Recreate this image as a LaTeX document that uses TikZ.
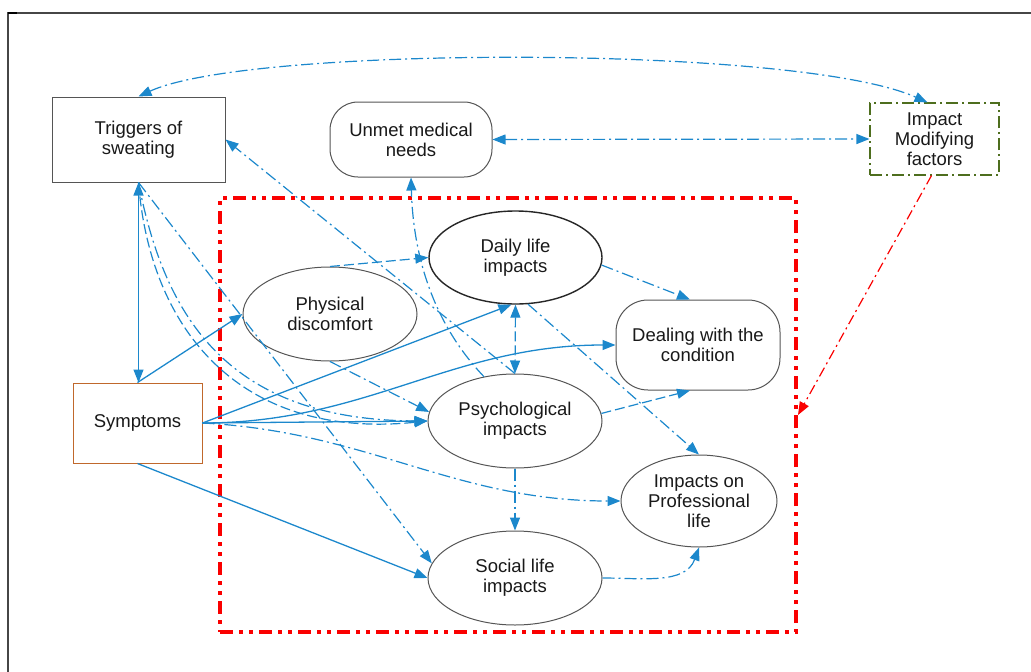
\documentclass[tikz,border=0pt]{standalone}
\usepackage{fontspec}
\setmainfont{Liberation Sans}
\usetikzlibrary{arrows.meta,shapes.geometric,calc}

\definecolor{flow}{RGB}{28,136,204}
\definecolor{grpred}{RGB}{250,0,0}
\definecolor{modgreen}{RGB}{78,110,30}
\definecolor{sympbrown}{RGB}{192,104,44}
\definecolor{edgegray}{RGB}{85,85,85}
\definecolor{framegray}{RGB}{70,70,70}

\begin{document}
\begin{tikzpicture}[x=1pt,y=1pt,
  lbl/.style={font=\fontsize{18.5}{20}\selectfont, align=center, text=black!90, inner sep=0pt},
  boxnode/.style={lbl, draw=edgegray, line width=1pt, fill=white, rectangle},
  roundnode/.style={lbl, draw=edgegray, line width=1pt, fill=white, rectangle, rounded corners=28pt},
  ellnode/.style={lbl, draw=edgegray, line width=1pt, fill=white, ellipse},
  headed/.style={-{Triangle[length=13pt,width=10pt]}},
  twoway/.style={{Triangle[length=13pt,width=10pt]}-{Triangle[length=13pt,width=10pt]}},
  solidflow/.style={draw=flow, color=flow, line width=1.3pt},
  dashflow/.style={draw=flow, color=flow, line width=1.2pt, dash pattern=on 10pt off 4pt},
  dotflow/.style={draw=flow, color=flow, line width=1.2pt, dash pattern=on 12pt off 4pt on 2pt off 4pt},
]
\useasboundingbox (0,0) rectangle (1031,-672);

% page frame
\draw[framegray, line width=1.5pt] (1031,-13) -- (8,-13) -- (8,-672);
\draw[black, line width=2.5pt] (8,-13) -- (17,-13);

% group of impacts
\node[draw=grpred, line width=4pt, dash pattern=on 13pt off 6pt on 4pt off 6pt on 4pt off 6pt,
      minimum width=576, minimum height=434, inner sep=0pt] (grp) at (508,-415) {};

% nodes
\node[boxnode, minimum width=173, minimum height=85] (trig) at (138.5,-139.5) {Triggers of\\sweating};
\node[roundnode, minimum width=162, minimum height=75] (unmet) at (411,-139.5) {Unmet medical\\needs};
\node[lbl, draw=modgreen, line width=1.1pt, dash pattern=on 12pt off 4pt on 2pt off 4pt, fill=white,
      minimum width=129, minimum height=72] (imp) at (934.5,-139) {Impact\\Modifying\\factors};
\node[lbl, draw=sympbrown, line width=1pt, fill=white, minimum width=129, minimum height=80] (symp) at (137.5,-423) {Symptoms};

\node[ellnode, minimum width=174, minimum height=94] (phys) at (330,-314) {Physical\\discomfort};
\node[ellnode, draw=black!85, line width=1.4pt, minimum width=173, minimum height=93] (daily) at (515.5,-257.5) {Daily life\\impacts};
\node[ellnode, minimum width=174, minimum height=94] (psych) at (515,-421) {Psychological\\impacts};
\node[ellnode, minimum width=174, minimum height=94] (social) at (515,-578) {Social life\\impacts};
\node[roundnode, rounded corners=32pt, minimum width=164, minimum height=90] (deal) at (698,-345) {Dealing with the\\condition};
\node[ellnode, minimum width=156, minimum height=92] (prof) at (699,-501) {Impacts on\\Professional\\life};

% links between triggers and modifying factors
\draw[dotflow, twoway] (trig.north) .. controls (250,-45) and (800,-45) .. ([xshift=-7pt]imp.north);
\draw[dotflow, twoway] (unmet.east) -- (imp.west);

% links from symptoms
\draw[solidflow, twoway] (trig.south) -- (trig.south |- symp.north);
\draw[solidflow, headed] (symp.north) -- (phys.west);
\draw[solidflow, headed] (symp.east) -- (daily.265);
\draw[solidflow, headed] (symp.east) to[out=0,in=180] (deal.west);
\draw[solidflow, headed] (symp.east) -- (psych.west);
\draw[solidflow, headed] (symp.south) -- (social.west);
\draw[dotflow, headed] (symp.east) to[out=-3,in=180] (prof.west);

% links from triggers
\draw[dotflow, headed] (trig.south) .. controls (165,-320) and (230,-420) .. (psych.west);
\draw[dashflow, headed] (trig.south) .. controls (150,-330) and (240,-440) .. (psych.west);
\draw[dotflow, headed] (trig.south) -- (social.170);

% feedback links
\draw[dotflow, headed] (psych.north) -- (trig.east);
\draw[dotflow, headed] (psych.125) .. controls (430,-320) and (413,-250) .. (unmet.south);

% links inside the group
\draw[dashflow, headed] (phys.north) -- (daily.west);
\draw[dotflow, headed] (phys.south) -- (psych.174);
\draw[dashflow, twoway] (daily.south) -- (psych.north);
\draw[dotflow, headed] (daily.-5) -- ([xshift=-8pt]deal.north);
\draw[dotflow, headed] (daily.-75) -- (prof.north);
\draw[dashflow, headed] (psych.5) -- ([xshift=-8pt]deal.south);
\draw[dotflow, headed] (psych.south) -- (social.north);
\draw[dotflow, headed] (social.east) to[out=0,in=250] (prof.south);

% modifying factors act on the whole group
\draw[grpred, line width=1.2pt, dash pattern=on 10pt off 4pt on 2pt off 4pt, headed]
  ([xshift=-3pt]imp.south) -- (grp.east);
\end{tikzpicture}
\end{document}
